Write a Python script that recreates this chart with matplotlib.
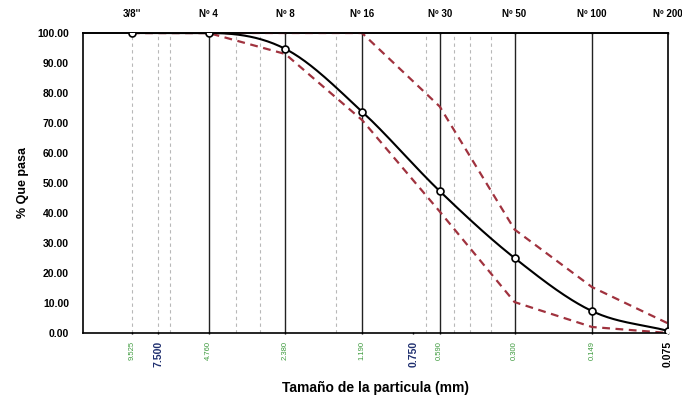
import numpy as np
import matplotlib.pyplot as plt
from matplotlib.ticker import FixedLocator, NullLocator

plt.rcParams['font.family'] = ['Liberation Sans', 'DejaVu Sans']

# sieve sizes (mm) and names
sizes = [9.525, 4.760, 2.380, 1.190, 0.590, 0.300, 0.149, 0.075]
sieves = ["3/8''", "Nº 4", "Nº 8", "Nº 16", "Nº 30", "Nº 50", "Nº 100", "Nº 200"]

# % passing
passing = [100.0, 100.0, 94.7, 73.8, 47.3, 25.0, 7.3, 0.7]
lower = [100.0, 100.0, 93.0, 71.0, 40.5, 10.3, 2.0, 0.0]
upper = [100.0, 100.0, 100.0, 100.0, 75.5, 34.5, 15.3, 3.2]

# extra bottom labels and faint grid lines
extra_ticks = [7.500, 0.750]
faint_lines = [9.525, 7.5, 6.75, 3.7, 3.0, 1.5, 0.67, 0.52, 0.45, 0.37]
solid_lines = [4.760, 2.380, 1.190, 0.590, 0.300, 0.149]


def smooth(x, y, n=40):
    # excel-like smoothed line (cardinal spline in log-x), only for drawing
    lx = np.log10(x)
    y = np.asarray(y, float)
    h = np.diff(lx)
    d = np.diff(y) / h
    m = np.zeros_like(y)
    m[0], m[-1] = d[0], d[-1]
    for i in range(1, len(y) - 1):
        m[i] = 0 if d[i - 1] == 0 else (y[i + 1] - y[i - 1]) / (lx[i + 1] - lx[i - 1])
    xs, ys = [], []
    for i in range(len(y) - 1):
        t = np.linspace(0, 1, n)
        h00 = 2 * t**3 - 3 * t**2 + 1
        h10 = t**3 - 2 * t**2 + t
        h01 = -2 * t**3 + 3 * t**2
        h11 = t**3 - t**2
        ys.append(h00 * y[i] + h10 * h[i] * m[i] + h01 * y[i + 1] + h11 * h[i] * m[i + 1])
        xs.append(10 ** (lx[i] + t * h[i]))
    return np.concatenate(xs), np.concatenate(ys)


fig = plt.figure(figsize=(6.82, 4.01), dpi=100)
ax = fig.add_axes([0.1217, 0.1696, 0.8578, 0.7481])
ax.set_xscale('log')
ax.set_xlim(14.8, 0.075)
ax.set_ylim(0, 100)

for v in faint_lines:
    ax.axvline(v, color='#b8b8b8', lw=0.8, ls=(0, (3, 3)), zorder=1)
for v in solid_lines:
    ax.axvline(v, color='#222222', lw=1.0, zorder=1)

red = '#a0323e'
ax.plot(sizes, upper, color=red, lw=1.6, ls=(0, (3.5, 2.5)), zorder=2)
ax.plot(sizes, lower, color=red, lw=1.6, ls=(0, (3.5, 2.5)), zorder=2)

sx, sy = smooth(sizes, passing)
ax.plot(sx, sy, color='black', lw=1.5, zorder=3)
ax.plot(sizes, passing, ls='none', marker='o', ms=5, mfc='white', mec='black', mew=1.2, zorder=4)

# y axis
ax.set_yticks(np.arange(0, 101, 10))
ax.set_yticklabels([f"{v:.2f}" for v in np.arange(0, 101, 10)], fontsize=7.5, fontweight='bold')
ax.tick_params(axis='y', length=0, pad=10)
ax.set_ylabel('% Que pasa', fontsize=9, fontweight='bold', labelpad=6)

# bottom axis
ticks = sorted(sizes + extra_ticks, reverse=True)
labels = [f"{v:.3f}" for v in ticks]
ax.xaxis.set_major_locator(FixedLocator(ticks))
ax.xaxis.set_minor_locator(NullLocator())
ax.set_xticklabels(labels, rotation=90)
for v, t in zip(ticks, ax.get_xticklabels()):
    if v == 0.075:
        t.set_color('black'); t.set_fontsize(7.5); t.set_fontweight('bold')
    elif v in extra_ticks:
        t.set_color('#1f2f6f'); t.set_fontsize(7.5); t.set_fontweight('bold')
    else:
        t.set_color('#3d9a3d'); t.set_fontsize(5.5)
ax.tick_params(axis='x', length=2, width=1, pad=5, direction='inout')
ax.set_xlabel('Tamaño de la particula (mm)', fontsize=10, fontweight='bold', labelpad=10)

# top axis with sieve names
top = ax.secondary_xaxis('top')
top.xaxis.set_major_locator(FixedLocator(sizes))
top.xaxis.set_minor_locator(NullLocator())
top.set_xticklabels(sieves, fontsize=7, fontweight='bold')
top.tick_params(length=2, width=1, pad=9, direction='inout')
top.spines['top'].set_linewidth(1.2)

for s in ax.spines.values():
    s.set_linewidth(1.2)

fig.savefig('out.png', dpi=100)
